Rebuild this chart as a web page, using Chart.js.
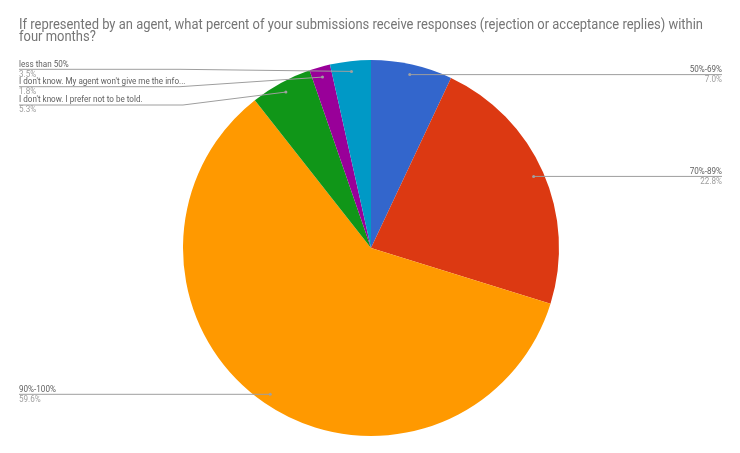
<!DOCTYPE html>
<html>
<head>
<meta charset="utf-8">
<script src="https://cdn.jsdelivr.net/npm/chart.js@4.4.0/dist/chart.umd.min.js"></script>
<style>
html,body{margin:0;padding:0;background:#fff;}
#wrap{width:740px;height:453px;position:relative;}
</style>
</head>
<body>
<div id="wrap"><canvas id="c" width="740" height="453"></canvas></div>
<script>
const titleLines = ["If represented by an agent, what percent of your submissions receive responses (rejection or acceptance replies) within", "four months?"];
const categories = ["50%-69%", "70%-89%", "90%-100%", "I don't know. I prefer not to be told.", "I don't know. My agent won't give me the info...", "less than 50%"];
const values = [7.0, 22.8, 59.6, 5.3, 1.8, 3.5];
const colors = ["#3366cc", "#dc3912", "#ff9900", "#109618", "#990099", "#0099c6"];

// label layout (positions only)
const labelLayout = [
  {side: "right"},
  {side: "right"},
  {side: "left"},
  {side: "left", lineY: 105, knee: 183},
  {side: "left", lineY: 86.7, knee: 180},
  {side: "left", lineY: 69.3, knee: 180}
];

function drawText(ctx, text, x, y, align, sx) {
  ctx.save();
  ctx.translate(x, y);
  ctx.scale(sx, 1);
  ctx.textAlign = align;
  ctx.fillText(text, 0, 0);
  ctx.restore();
}

const titlePlugin = {
  id: "titleDraw",
  afterDraw(chart) {
    const ctx = chart.ctx;
    ctx.save();
    ctx.font = "14px Roboto";
    ctx.fillStyle = "#757575";
    ctx.textBaseline = "middle";
    const w = ctx.measureText(titleLines[0]).width;
    const sx = Math.min(1, 684 / w);
    drawText(ctx, titleLines[0], 19, 25.5, "left", sx);
    drawText(ctx, titleLines[1], 19, 37.5, "left", sx);
    ctx.restore();
  }
};

const labelPlugin = {
  id: "leaderLabels",
  afterDatasetsDraw(chart) {
    const ctx = chart.ctx;
    const meta = chart.getDatasetMeta(0);
    const total = values.reduce((a, b) => a + b, 0);
    ctx.save();
    meta.data.forEach((arc, i) => {
      const mid = (arc.startAngle + arc.endAngle) / 2;
      const r = arc.outerRadius * 0.945;
      const dx = arc.x + Math.cos(mid) * r;
      const dy = arc.y + Math.sin(mid) * r;
      const lay = labelLayout[i];
      const lineY = lay.lineY !== undefined ? lay.lineY : dy;
      ctx.strokeStyle = "#9e9e9e";
      ctx.lineWidth = 1;
      ctx.beginPath();
      let tx;
      if (lay.side === "right") {
        tx = 722;
        ctx.moveTo(dx, lineY);
        ctx.lineTo(tx, lineY);
      } else {
        tx = 19;
        ctx.moveTo(tx, lineY);
        if (lay.knee !== undefined) {
          ctx.lineTo(lay.knee, lineY);
          ctx.lineTo(dx, dy);
        } else {
          ctx.lineTo(dx, lineY);
        }
      }
      ctx.stroke();
      ctx.fillStyle = "#a0a0a0";
      ctx.beginPath();
      ctx.arc(dx, dy, 1.5, 0, Math.PI * 2);
      ctx.fill();
      ctx.font = "9px Roboto";
      ctx.textBaseline = "middle";
      const align = lay.side === "right" ? "right" : "left";
      ctx.fillStyle = "#616161";
      drawText(ctx, categories[i], tx, lineY - 5, align, 0.9);
      ctx.fillStyle = "#9e9e9e";
      drawText(ctx, (values[i] / total * 100).toFixed(1) + "%", tx, lineY + 5, align, 0.9);
    });
    ctx.restore();
  }
};

new Chart(document.getElementById("c"), {
  type: "pie",
  data: {
    labels: categories,
    datasets: [{
      data: values,
      backgroundColor: colors,
      borderWidth: 0
    }]
  },
  options: {
    responsive: false,
    animation: false,
    devicePixelRatio: 1,
    layout: {padding: {top: 60, bottom: 17, left: 183, right: 181}},
    plugins: {
      legend: {display: false},
      tooltip: {enabled: false},
      title: {display: false}
    }
  },
  plugins: [titlePlugin, labelPlugin]
});
</script>
</body>
</html>
